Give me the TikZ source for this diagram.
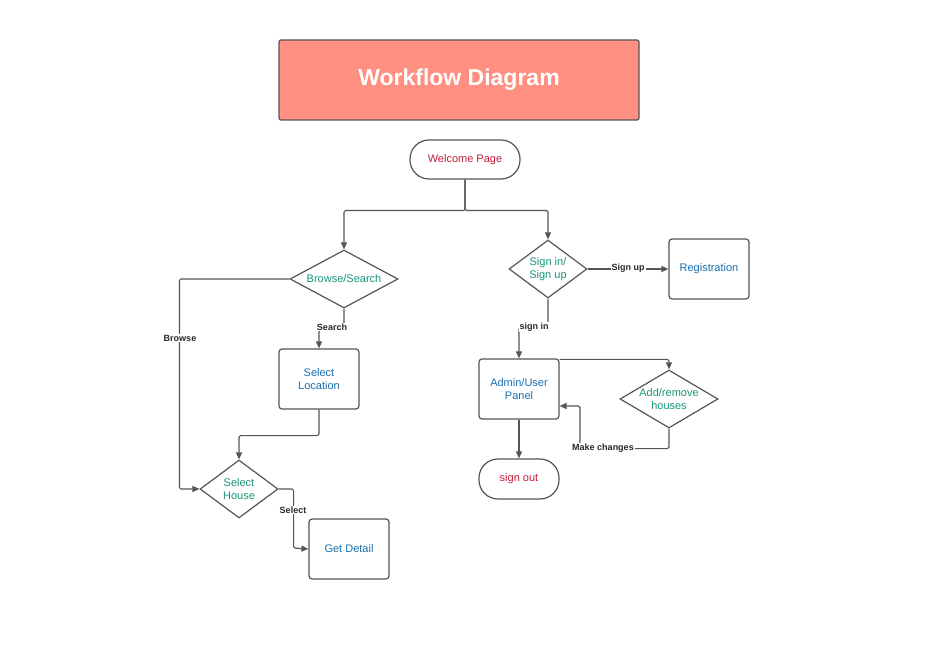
\documentclass[tikz,border=0pt]{standalone}
\usepackage{fontspec}
\setmainfont{Liberation Sans}
\usepackage{tikz}
\usetikzlibrary{positioning,arrows.meta,shapes.geometric}
\definecolor{colorline}    {RGB}{85 ,85 ,85 }
\definecolor{colortitle}   {RGB}{255,143,128}
\definecolor{colorpage}    {RGB}{196,30 ,58 }
\definecolor{colorbox}     {RGB}{26 ,111,175}
\definecolor{colorchoice}  {RGB}{24 ,149,122}
\definecolor{colorlabel}   {RGB}{40 ,40 ,40 }

\begin{document}
\begin{tikzpicture}[
    x=1pt, y=-1pt,
    font={\fontsize{11}{13}\selectfont},
    base/.style={draw=colorline,line width=1.2pt,align=center,inner sep=0pt},
    titlebox/.style={base,fill=colortitle,rounded corners=2pt,minimum width=360pt,minimum height=80pt,text=white,font={\fontsize{23}{26}\selectfont\bfseries}},
    pagenode/.style={base,rounded corners=19pt,text=colorpage,minimum height=39pt},
    boxnode/.style={base,rounded corners=3pt,text=colorbox,minimum width=80pt,minimum height=60pt},
    choice/.style={base,diamond,text=colorchoice,minimum height=58pt},
    line/.style={draw=colorline,line width=1.2pt,rounded corners=1.5pt},
    arrow/.style={line,-{Triangle[length=7pt,width=6pt]}},
    lbl/.style={fill=white,text=colorlabel,inner sep=1pt,font={\fontsize{9}{10}\selectfont\bfseries}},
]
    \useasboundingbox[fill=white] (0,0) rectangle (935,660);

    % Title
    \node[titlebox] (title) at (459,80) {Workflow Diagram};

    % Start
    \node[pagenode,minimum width=110pt] (welcome) at (465,159.5) {Welcome Page};

    % Browse branch
    \node[choice,aspect=1.86,minimum width=108pt] (browse) at (344,279) {Browse/Search};
    \node[boxnode] (location) at (319,379) {Select\\Location};
    \node[choice,aspect=1.34,minimum width=78pt] (house) at (239,489) {Select\\House};
    \node[boxnode] (detail)   at (349,549) {Get Detail};

    % Sign in branch
    \node[choice,aspect=1.34,minimum width=78pt] (sign) at (548,269) {Sign in/\\Sign up};
    \node[boxnode] (registration) at (709,269) {Registration};
    \node[boxnode] (panel)    at (519,389) {Admin/User\\Panel};
    \node[choice,aspect=1.69,minimum width=98pt,inner sep=-3pt] (houses) at (669,399) {Add/remove\\houses};
    \node[pagenode,minimum width=80pt,minimum height=40pt] (signout) at (519,479) {sign out};

    % Arrows
    \draw[arrow] (welcome.south) |- ++(0,31) -| (browse.north);
    \draw[arrow] (welcome.south) |- ++(0,31) -| (sign.north);
    \draw[arrow] (browse.west) -| ++(-110,105) |- (house.west);
    \draw[arrow] (browse.south) -- ++(0,19) -| (location.north);
    \draw[arrow] (location.south) -- ++(0,26) -| (house.north);
    \draw[arrow] (house.east) -| ++(15,59) -- (detail.west);
    \draw[arrow] (sign.east) -- (registration.west);
    \draw[arrow] (sign.south) -- ++(0,29) -| (panel.north);
    \draw[arrow] (panel.north east) ++(0,1) -| (houses.north);
    \draw[arrow] (houses.south) |- ++(-89,20) |- (panel.east |- 0,406);
    \draw[arrow] (panel.south) -- (signout.north);

    % Labels
    \node[lbl] (lbrowse) at (180,338) {Browse};
    \node[lbl] (lsearch) at (332,327) {Search};
    \node[lbl] (lselect) at (293,510) {Select};
    \node[lbl] (lsignup) at (628,268) {Sign up};
    \node[lbl] (lsignin) at (534,327) {sign in};
    \node[lbl] (lchange) at (603,448) {Make changes};

\end{tikzpicture}
\end{document}
